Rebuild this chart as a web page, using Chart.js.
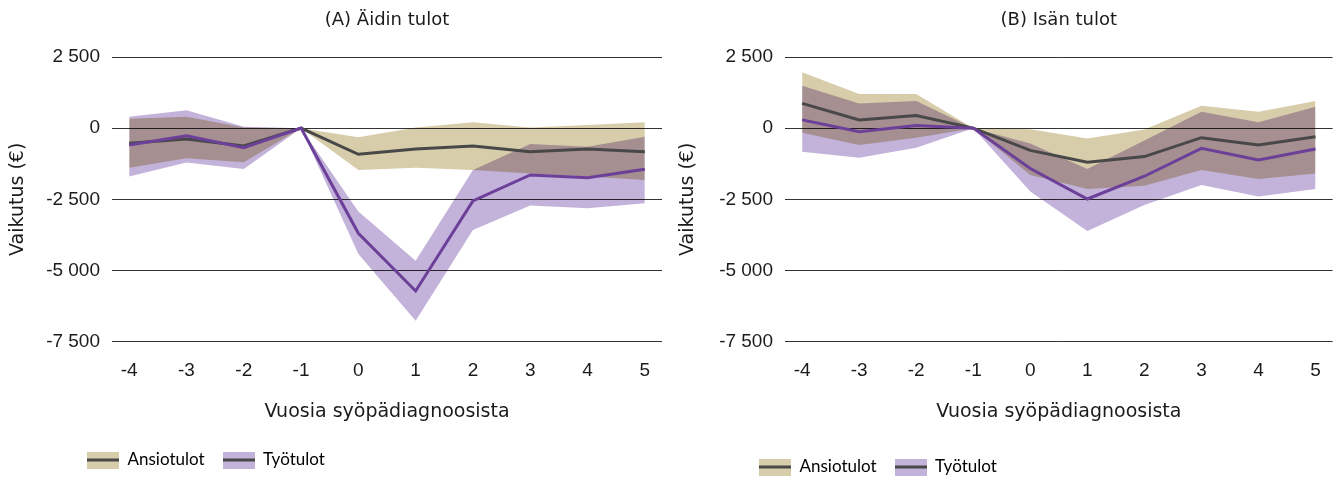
<!DOCTYPE html>
<html lang="fi">
<head>
<meta charset="utf-8">
<title>Äidin ja isän tulot</title>
<script src="https://cdn.jsdelivr.net/npm/chart.js@4.4.1/dist/chart.umd.min.js"></script>
<style>
  html, body { margin: 0; padding: 0; background: #fff; }
  .wrap { position: relative; width: 1339px; height: 477px; }
  .panel { position: absolute; top: 0; width: 669px; height: 477px; }
  #panelA { left: 0; }
  #panelB { left: 670px; }
</style>
</head>
<body>
<div class="wrap">
  <div class="panel" id="panelA"><canvas id="chartA" width="669" height="477"></canvas></div>
  <div class="panel" id="panelB"><canvas id="chartB" width="669" height="477"></canvas></div>
</div>
<script>
const years = [-4, -3, -2, -1, 0, 1, 2, 3, 4, 5];
const yTicks = [-7500, -5000, -2500, 0, 2500];

// (A) Äidin tulot
const aAnsio = [-530, -380, -625, 0, -920, -730, -625, -825, -730, -825];
const aAnsioHigh = [330, 400, 20, 0, -320, 20, 205, 20, 110, 205];
const aAnsioLow = [-1390, -1060, -1200, 0, -1470, -1390, -1470, -1590, -1700, -1820];
const aTyo = [-590, -265, -685, 0, -3695, -5720, -2560, -1645, -1740, -1445];
const aTyoHigh = [400, 625, 50, 0, -2930, -4655, -1470, -555, -650, -300];
const aTyoLow = [-1700, -1210, -1435, 0, -4420, -6770, -3580, -2720, -2815, -2640];

// (B) Isän tulot
const bAnsio = [870, 290, 440, 0, -780, -1200, -1000, -335, -590, -300];
const bAnsioHigh = [1960, 1200, 1200, 0, -40, -360, -50, 790, 580, 955];
const bAnsioLow = [-160, -590, -335, 0, -1650, -2140, -2020, -1470, -1785, -1590];
const bTyo = [290, -125, 90, 0, -1420, -2490, -1690, -710, -1120, -730];
const bTyoHigh = [1490, 870, 955, 0, -540, -1435, -430, 580, 205, 755];
const bTyoLow = [-825, -1040, -685, 0, -2230, -3610, -2700, -2000, -2405, -2140];

const tan = '#d8cdaa';
const lilac = '#c3b2d9';
const darkLine = '#484848';
const purpleLine = '#6c3f99';
const textColor = '#1a1a1a';
const titleFont = '"DejaVu Sans", sans-serif';
const tickFont = '"Liberation Sans", Arial, sans-serif';

Chart.defaults.font.family = 'Lato, sans-serif';
Chart.defaults.color = textColor;

function points(arr) {
    return years.map((x, i) => ({ x: x, y: arr[i] }));
}

function fmt(v) {
    const s = Math.abs(v).toString().replace(/\B(?=(\d{3})+(?!\d))/g, ' ');
    return (v < 0 ? '-' : '') + s;
}

// legend swatch: coloured box with the dark line through it
function swatch(color) {
    const c = document.createElement('canvas');
    c.width = 32;
    c.height = 17;
    const g = c.getContext('2d');
    g.fillStyle = color;
    g.fillRect(0, 0, 32, 17);
    g.fillStyle = darkLine;
    g.fillRect(0, 7, 32, 3);
    return c;
}

// bands are blended with multiply so the overlap turns brown
const blendBands = {
    id: 'blendBands',
    beforeDraw(chart) { chart.ctx.globalCompositeOperation = 'multiply'; },
    beforeDatasetsDraw(chart) { chart.ctx.globalCompositeOperation = 'source-over'; }
};

// put the legend where it sits in the original
const legendPlace = {
    id: 'legendPlace',
    afterLayout(chart, args, opts) {
        const lg = chart.legend;
        const w = lg.width, h = lg.height;
        lg.left = opts.x; lg.right = opts.x + w;
        lg.top = opts.y; lg.bottom = opts.y + h;
    }
};

function makeChart(id, title, ansio, ansioHigh, ansioLow, tyo, tyoHigh, tyoLow, areaLeft, padRight, legendX, legendY) {
    const ctx = document.getElementById(id);
    return new Chart(ctx.getContext('2d'), {
        type: 'line',
        data: {
            datasets: [
                { label: 'Työtulot', data: points(tyo), borderColor: purpleLine, borderWidth: 3, pointRadius: 0, fill: false, tension: 0 },
                { label: 'Ansiotulot', data: points(ansio), borderColor: darkLine, borderWidth: 3, pointRadius: 0, fill: false, tension: 0 },
                { label: 'Ansiotulot yläraja', data: points(ansioHigh), borderWidth: 0, pointRadius: 0, backgroundColor: tan, fill: '+1' },
                { label: 'Ansiotulot alaraja', data: points(ansioLow), borderWidth: 0, pointRadius: 0, fill: false },
                { label: 'Työtulot yläraja', data: points(tyoHigh), borderWidth: 0, pointRadius: 0, backgroundColor: lilac, fill: '+1' },
                { label: 'Työtulot alaraja', data: points(tyoLow), borderWidth: 0, pointRadius: 0, fill: false }
            ]
        },
        options: {
            responsive: false,
            animation: false,
            layout: { padding: { left: 0, right: padRight, top: 0, bottom: 8.8 } },
            scales: {
                x: {
                    type: 'linear',
                    min: -4.3,
                    max: 5.3,
                    grid: { display: false, drawTicks: false },
                    border: { display: false },
                    afterBuildTicks: scale => { scale.ticks = years.map(v => ({ value: v })); },
                    ticks: {
                        padding: 18,
                        font: { family: tickFont, size: 19 },
                        color: textColor,
                        callback: v => fmt(v)
                    },
                    title: {
                        display: true,
                        text: 'Vuosia syöpädiagnoosista',
                        font: { family: titleFont, size: 19 },
                        padding: { top: 0, bottom: 0 }
                    }
                },
                y: {
                    min: -7500,
                    max: 2500,
                    afterBuildTicks: scale => { scale.ticks = yTicks.map(v => ({ value: v })); },
                    afterFit: scale => { scale.width = areaLeft; },
                    grid: { color: '#333333', lineWidth: 1, drawTicks: false },
                    border: { display: false },
                    ticks: {
                        padding: 12,
                        font: { family: tickFont, size: 19 },
                        color: textColor,
                        callback: v => fmt(v)
                    },
                    title: {
                        display: true,
                        text: 'Vaikutus (€)',
                        font: { family: titleFont, size: 19 },
                        padding: { top: 6.6, bottom: 0 }
                    }
                }
            },
            plugins: {
                filler: { drawTime: 'beforeDatasetsDraw' },
                title: {
                    display: true,
                    text: title,
                    fullSize: false,
                    font: { family: titleFont, size: 18, weight: 'normal' },
                    color: textColor,
                    padding: { top: 9.2, bottom: 26.2 }
                },
                legend: {
                    position: 'bottom',
                    align: 'start',
                    labels: {
                        usePointStyle: true,
                        pointStyleWidth: 32,
                        boxHeight: 17,
                        padding: 18,
                        font: { size: 17 },
                        color: textColor,
                        generateLabels: () => [
                            { text: 'Ansiotulot', pointStyle: swatch(tan), fillStyle: tan, strokeStyle: 'transparent', lineWidth: 0, hidden: false, datasetIndex: 1 },
                            { text: 'Työtulot', pointStyle: swatch(lilac), fillStyle: lilac, strokeStyle: 'transparent', lineWidth: 0, hidden: false, datasetIndex: 0 }
                        ]
                    }
                },
                tooltip: { enabled: false },
                legendPlace: { x: legendX, y: legendY }
            }
        },
        plugins: [blendBands, legendPlace]
    });
}

makeChart('chartA', '(A) Äidin tulot', aAnsio, aAnsioHigh, aAnsioLow, aTyo, aTyoHigh, aTyoLow, 112, 7, 69, 433.5);
makeChart('chartB', '(B) Isän tulot', bAnsio, bAnsioHigh, bAnsioLow, bTyo, bTyoHigh, bTyoLow, 115, 4, 71, 440.5);
</script>
</body>
</html>
